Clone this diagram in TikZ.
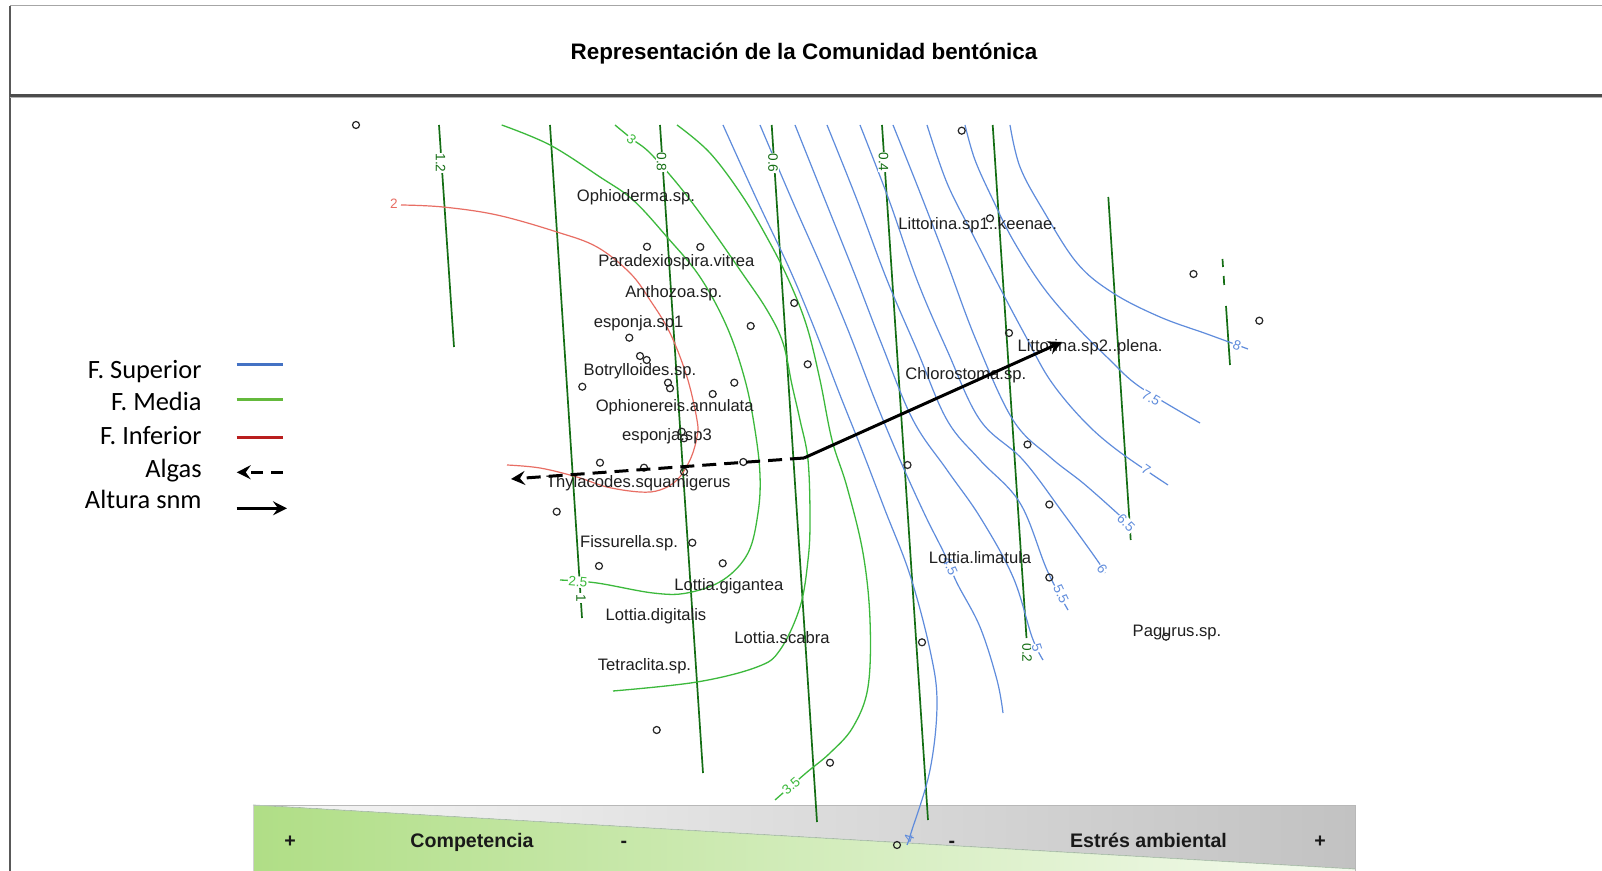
\documentclass[tikz,border=0pt]{standalone}
\usepackage{fontspec}
\setmainfont{Liberation Sans}
\newfontfamily\legfont{Carlito}
\usetikzlibrary{arrows.meta}
\definecolor{cblue}{RGB}{95,140,220}
\definecolor{cgreen}{RGB}{60,185,60}
\definecolor{cdkgreen}{RGB}{20,110,20}
\definecolor{cred}{RGB}{232,110,100}
\definecolor{lblue}{RGB}{68,114,196}
\definecolor{lgreen}{RGB}{100,185,60}
\definecolor{lred}{RGB}{185,30,30}
\definecolor{grayL}{RGB}{246,246,246}
\definecolor{grayR}{RGB}{194,194,194}
\definecolor{grnL}{RGB}{176,222,134}
\definecolor{grnR}{RGB}{244,250,238}
\begin{document}
\begin{tikzpicture}[x=0.5pt,y=-0.5pt,
  sup/.style={cblue,line width=0.6pt},
  med/.style={cgreen,line width=0.65pt},
  iso/.style={cdkgreen,line width=0.85pt},
  inf/.style={cred,line width=0.6pt},
  sp/.style={font=\fontsize{8.3}{9}\selectfont,text=black!88,inner sep=0pt,text height=6pt,text depth=0pt},
  dlab/.style={font=\fontsize{6.8}{7}\selectfont,text=cdkgreen,fill=white,inner sep=0.5pt,rotate=-90},
  blab/.style={font=\fontsize{6.8}{7}\selectfont,text=cblue,fill=white,inner sep=0.4pt},
  glab/.style={font=\fontsize{6.8}{7}\selectfont,text=cgreen,fill=white,inner sep=0.4pt},
  dot/.style={draw=black!85,line width=0.6pt},
  bartxt/.style={font=\bfseries\fontsize{9.8}{11}\selectfont,text=black!90,inner sep=0pt,text height=7pt,text depth=0pt},
  legtxt/.style={font=\legfont\fontsize{13.2}{14}\selectfont,anchor=east,inner sep=0pt,text height=9pt,text depth=0pt},
  algas/.style={black,line width=1.5pt,dash pattern=on 7pt off 4pt,-{Stealth[length=7pt,width=7pt,inset=2.5pt]}},
  altura/.style={black,line width=1.5pt,-{Stealth[length=7pt,width=7pt,inset=2.5pt]}}
]
\useasboundingbox (0,0) rectangle (1602,871);
\fill[white] (0,0) rectangle (1602,871);

% frame
\draw[black!35,line width=0.5pt] (10,6) -- (1602,6);
\draw[black!65,line width=0.6pt] (10,6) -- (10,871);
\draw[black!70,line width=1.1pt] (10,95.5) -- (1602,95.5);
\draw[black!30,line width=0.6pt] (10,97.8) -- (1602,97.8);

% title
\node[font=\bfseries\fontsize{11.2}{13}\selectfont,inner sep=0pt,text height=8pt,text depth=0pt] (title) at (804,52) {Representación de la Comunidad bentónica};

% bottom bar
\fill[left color=grayL,right color=grayR] (253,805) -- (1355,805) -- (1355,869) -- cycle;
\fill[left color=grnL,right color=grnR] (253,805) -- (1355,869) -- (1355,871) -- (253,871) -- cycle;
\draw[black!28,line width=0.5pt] (253,805) -- (1355,805) -- (1355,871);
\draw[black!18,line width=0.4pt] (253,805) -- (253,871);
\draw[green!25!black!30,line width=0.4pt] (253,805) -- (1355,869);

% dark green isolines
\draw[iso] (439,125) -- (454,347);
\draw[iso] (550,125) -- (582,618);
\draw[iso] (660,125) -- (703,773);
\draw[iso] (771.7,125) -- (817,822);
\draw[iso] (882,125) -- (928,820);
\draw[iso] (992.7,125) -- (1026.5,638);
\draw[iso] (1108.3,197) -- (1130.7,540);
\draw[iso] (1222.5,259) -- (1223,267);
\draw[iso] (1223.7,276) -- (1224.2,285);
\draw[iso] (1226,306) -- (1230,365);

% red (F. Inferior)
\draw[inf] plot[smooth,tension=0.6] coordinates {(401,205) (443,207) (497,215) (557,232) (597,247) (630,273) (650,300) (670,333) (687,377) (697,420) (697,437) (690,460) (677,480) (660,490) (640,492) (607,487) (577,477) (540,468) (507,465)};

% green (F. Media)
\draw[med] plot[smooth,tension=0.6] coordinates {(501.7,125) (550,145) (600,177) (633,200) (667,237) (700,277) (727,327) (745,380) (755,430) (760,475) (758,513) (748,553) (723,580) (687,593) (653,593) (597,583) (560,580)};
\draw[med] plot[smooth,tension=0.6] coordinates {(615,125) (632,139) (650,153) (680,187) (710,227) (740,270) (767,310) (783,343) (792,385) (800,420) (808,460) (810,520) (808,560) (800,607) (780,650) (757,667) (697,682) (613,691)};
\draw[med] plot[smooth,tension=0.6] coordinates {(677,125) (710,153) (743,197) (770,243) (790,283) (807,327) (820,380) (832,440) (847,487) (863,553) (870,620) (868,687) (853,727) (830,753) (806,773) (775,800)};

% blue (F. Superior)
\draw[sup] plot[smooth,tension=0.6] coordinates {(723,125) (757,200) (790,270) (815,330) (840,395) (862,450) (885,510) (910,575) (930,650) (937,703) (930,770) (911,833) (907,845)};
\draw[sup] plot[smooth,tension=0.6] coordinates {(760,125) (792,200) (822,268) (848,330) (875,400) (900,460) (925,515) (945,555) (957,583) (980,627) (997,680) (1003,713)};
\draw[sup] plot[smooth,tension=0.6] coordinates {(795,125) (825,200) (855,275) (882,345) (913,420) (947,470) (980,517) (1013,577) (1032,637) (1043,660)};
\draw[sup] plot[smooth,tension=0.6] coordinates {(827,125) (857,200) (887,280) (917,350) (947,420) (980,460) (1020,503) (1047,570) (1068,610)};
\draw[sup] plot[smooth,tension=0.6] coordinates {(860,125) (889,200) (917,280) (947,350) (980,420) (1023,460) (1063,513) (1097,560) (1105,573)};
\draw[sup] plot[smooth,tension=0.6] coordinates {(893,125) (919,190) (946,260) (976,340) (1013,420) (1050,457) (1083,483) (1117,513) (1135,530)};
\draw[sup] plot[smooth,tension=0.6] coordinates {(927,125) (947,183) (973,235) (1000,288) (1025,335) (1050,380) (1083,420) (1117,450) (1168,485)};
\draw[sup] plot[smooth,tension=0.6] coordinates {(965,125) (975,160) (993,200) (1013,240) (1043,287) (1077,327) (1110,360) (1140,387) (1200,423)};
\draw[sup] plot[smooth,tension=0.6] coordinates {(1010,125) (1020,167) (1043,210) (1077,263) (1113,293) (1160,317) (1207,334) (1248,349)};

% contour labels
\node[dlab] (l12) at (440.5,163) {1.2};
\node[dlab] (l1) at (581,598) {1};
\node[dlab] (l08) at (661.5,162) {0.8};
\node[dlab] (l06) at (773,163) {0.6};
\node[dlab] (l04) at (883.5,162) {0.4};
\node[dlab,fill=none] (l02) at (1027,653) {0.2};
\node[dlab] (l0) at (1130,527) {0};
\node[font=\fontsize{6.8}{7}\selectfont,text=cred,inner sep=0.5pt] (r2) at (394,204) {2};
\node[glab,rotate=-40] (g3) at (631.5,139) {3};
\node[glab,rotate=-5] (g25) at (578,582) {2.5};
\node[glab,rotate=40] (g35) at (791,786) {3.5};
\node[blab,rotate=72,fill=none] (b4) at (909,838) {4};
\node[blab,rotate=-66] (b45) at (950,566) {4.5};
\node[blab,rotate=-72] (b5) at (1037,648) {5};
\node[blab,rotate=-65] (b55) at (1061,594) {5.5};
\node[blab,rotate=-55] (b6) at (1102,569) {6};
\node[blab,rotate=-45] (b65) at (1126,523) {6.5};
\node[blab,rotate=-34] (b7) at (1146,470) {7};
\node[blab,rotate=-30] (b75) at (1151,398) {7.5};
\node[blab,rotate=-20] (b8) at (1237,345) {8};

% sample points
\foreach \p in {(356,125),(961.7,130.7),(647,246.7),(700.3,247),(794.2,303),(750.7,326),(629.3,337.7),(640,356),(646.7,360),(582.3,386.7),(668,382.7),(670,388.3),(734.3,382.7),(712.7,394),(681.7,431.7),(684,438.3),(990,218.3),(1009,333),(807.7,364.3),(1193.5,274),(1259.3,320.7),(600,462.7),(644,467.7),(684,471.7),(743.3,462),(907.5,465),(1027.5,444.5),(556.7,511.7),(1049.3,504.5),(692.3,542.7),(599,566),(722.7,563.3),(1049.3,577.5),(922,642.3),(1166,636.7),(656.7,730),(830,762.7),(897,845)}
  \draw[dot] \p circle[radius=1.75pt];

% species labels
\node[sp] (s1) at (636,196) {Ophioderma.sp.};
\node[sp] (s2) at (676.3,260.7) {Paradexiospira.vitrea};
\node[sp] (s3) at (673.8,291.7) {Anthozoa.sp.};
\node[sp] (s4) at (638.7,321.7) {esponja.sp1};
\node[sp] (s5) at (640,370) {Botrylloides.sp.};
\node[sp] (s6) at (674.7,406) {Ophionereis.annulata};
\node[sp] (s7) at (667,435) {esponja.sp3};
\node[sp] (s8) at (638.3,481.7) {Thylacodes.squamigerus};
\node[sp] (s9) at (629,541.7) {Fissurella.sp.};
\node[sp] (s10) at (728.8,584.3) {Lottia.gigantea};
\node[sp] (s11) at (656,614.3) {Lottia.digitalis};
\node[sp] (s12) at (782,637.7) {Lottia.scabra};
\node[sp] (s13) at (644.5,664.3) {Tetraclita.sp.};
\node[sp] (s14) at (977.7,224) {Littorina.sp1..keenae.};
\node[sp] (s15) at (1090,345.7) {Littorina.sp2..plena.};
\node[sp] (s16) at (965.8,373.3) {Chlorostoma.sp.};
\node[sp] (s17) at (980,557.7) {Lottia.limatula};
\node[sp] (s18) at (1177,630) {Pagurus.sp.};

% arrows
\coordinate (knee) at (804,458);
\coordinate (tipR) at (1062,342);
\coordinate (tipL) at (511,479);
\draw[altura] (knee) -- (tipR);
\draw[algas] (knee) -- (tipL);

% bar texts
\node[bartxt] (p1) at (290,840) {+};
\node[bartxt] (comp) at (472,840) {Competencia};
\node[bartxt] (m1) at (624,840) {-};
\node[bartxt] (m2) at (952,840) {-};
\node[bartxt] (estres) at (1148.5,840) {Estrés ambiental};
\node[bartxt] (p2) at (1320,840) {+};

% legend
\node[legtxt] (t1) at (202,370) {F. Superior};
\node[legtxt] (t2) at (202,401.7) {F. Media};
\node[legtxt] (t3) at (202,435.7) {F. Inferior};
\node[legtxt] (t4) at (202,468.3) {Algas};
\node[legtxt] (t5) at (202,500) {Altura snm};
\coordinate (a1) at (236.7,365); \coordinate (b1) at (282.7,365);
\coordinate (a2) at (236.7,399.3); \coordinate (b2) at (282.7,399.3);
\coordinate (a3) at (236.7,437.3); \coordinate (b3) at (282.7,437.3);
\coordinate (a4) at (236.7,472.3); \coordinate (b4) at (283,472.3);
\coordinate (a5) at (236.7,508.3); \coordinate (b5) at (287,508.3);
\draw[lblue,line width=1.5pt] (a1) -- (b1);
\draw[lgreen,line width=1.5pt] (a2) -- (b2);
\draw[lred,line width=1.5pt] (a3) -- (b3);
\draw[black,line width=1.5pt,dash pattern=on 6pt off 4pt,-{Stealth[length=7pt,width=7pt,inset=2.5pt]}] (b4) -- (a4);
\draw[altura] (a5) -- (b5);
\end{tikzpicture}
\end{document}
